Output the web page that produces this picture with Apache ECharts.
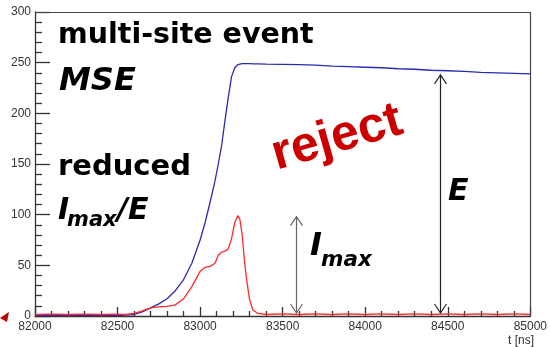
<!DOCTYPE html>
<html><head><meta charset="utf-8">
<script src="https://cdn.jsdelivr.net/npm/echarts@6/dist/echarts.min.js"></script>
<style>html,body{margin:0;padding:0;background:#fff}#c{width:550px;height:347px}</style>
</head><body><div id="c"></div>
<script>
// time points (ns)
const times = [82000,82100,82200,82300,82400,82500,82550,82600,82650,82700,82750,82800,82850,82900,82950,83000,83030,83060,83090,83110,83130,83150,83170,83190,83210,83228,83240,83255,83270,83285,83300,83320,83350,83400,83500,83600,83700,83800,83900,84000,84100,84200,84300,84400,84500,84600,84700,84800,84900,85000];
// blue: energy E (integrated charge)
const blueE = [0.5,0.3,0.5,0.4,0.5,0.5,0.8,1.5,4,8,12,17,25,36,52,75,92,112,133,150,168,192,215,236,245,248,248.5,249,249,249,249,248.8,248.8,248.5,248.3,248,247.5,246.5,246,245.5,245,244,243.5,242.5,242,241.5,240.5,240,239.5,239];
// red: current I
const redI = [1.5,1.8,1.5,1.8,1.5,1.8,1.5,2.5,5,8,9,9.5,11,17,29,44,48,49,52,60,63,64,66,76,92,99,96,80,52,32,16,6,2.5,1.5,2,1.5,2,1.5,2,1.5,2,1.5,2,1.5,2,1.5,2,1.5,2,1.5];
// annotation arrows: [time, from value, to value]
const arrowE = [84453, 3, 238];
const arrowI = [83581, 3, 98];

const chart = echarts.init(document.getElementById('c'));
const axisCol = '#333';
chart.setOption({
  animation:false,
  grid:{left:35,right:16,top:12,bottom:31},
  xAxis:{type:'value',min:82000,max:85000,interval:500,
    axisLine:{show:true,lineStyle:{color:axisCol,width:1.3}},
    axisTick:{show:true,inside:true,length:9,lineStyle:{color:axisCol,width:1.3}},
    minorTick:{show:true,splitNumber:5,length:5,lineStyle:{color:axisCol,width:1.3}},
    splitLine:{show:false},
    axisLabel:{color:'#333',fontSize:12,fontFamily:'Liberation Sans',margin:5,formatter:v=>String(v)}},
  yAxis:{type:'value',min:0,max:300,interval:50,
    axisLine:{show:true,lineStyle:{color:axisCol,width:1.3}},
    axisTick:{show:true,inside:true,length:15,lineStyle:{color:axisCol,width:1.3}},
    minorTick:{show:true,splitNumber:5,length:7,lineStyle:{color:axisCol,width:1.3}},
    splitLine:{show:false},
    axisLabel:{color:'#333',fontSize:12,fontFamily:'Liberation Sans',margin:4,formatter:v=>String(v)}},
  series:[
    {type:'line',data:times.map((t,i)=>[t,blueE[i]]),showSymbol:false,lineStyle:{color:'#2b2bb0',width:1.3}},
    {type:'line',data:times.map((t,i)=>[t,redI[i]]),showSymbol:false,lineStyle:{color:'#ff2a2a',width:1.3}}
  ]
});

const px = (x,y)=>chart.convertToPixel({gridIndex:0},[x,y]);
const c0 = px(82000,0), c1 = px(85000,300);
const L=Math.round(c0[0])+0.5, B=Math.round(c0[1])+0.5, R=Math.round(c1[0])+0.5, T=Math.round(c1[1])+0.5;
const g = [];
// frame (top, right)
g.push({type:'polyline',shape:{points:[[L,T],[R,T],[R,B]]},style:{stroke:'#444',lineWidth:1.2,fill:null},z:5});
function arrowGraphics(a,col){
  const p1 = px(a[0],a[1]), p2 = px(a[0],a[2]);
  const x = Math.round(p1[0])+0.5, yb=p1[1], yt=p2[1];
  const st = ()=>({stroke:col,lineWidth:1.2,fill:null});
  return [
    {type:'line',shape:{x1:x,y1:yb,x2:x,y2:yt},style:st(),z:10},
    {type:'polyline',shape:{points:[[x-6,yt+9],[x,yt],[x+6,yt+9]]},style:st(),z:10},
    {type:'polyline',shape:{points:[[x-6,yb-9],[x,yb],[x+6,yb-9]]},style:st(),z:10}
  ];
}
function txt(text,x,y,font,fill){
  return {type:'text',x:x,y:y,z:20,style:{text:text,font:font,fill:fill||'#000',align:'left',verticalAlign:'middle'}};
}
g.push(...arrowGraphics(arrowE,'#222'));
g.push(...arrowGraphics(arrowI,'#666'));
g.push(
  txt('multi-site event',58,36,'bold 28.5px "DejaVu Sans"'),
  txt('MSE',59,82,'italic bold 32px "DejaVu Sans"'),
  txt('reduced',58,167,'bold 29px "DejaVu Sans"'),
  txt('I',58,211,'italic bold 30px "DejaVu Sans"'),
  txt('max',67,221,'italic bold 21px "DejaVu Sans"'),
  txt('/E',117,211,'italic bold 30px "DejaVu Sans"'),
  txt('E',448,192,'italic bold 30px "DejaVu Sans"'),
  txt('I',310,246.5,'italic bold 32px "DejaVu Sans"'),
  txt('max',321,260,'italic bold 21.5px "DejaVu Sans"'),
  {type:'text',x:337,y:138,rotation:16*Math.PI/180,z:20,style:{text:'reject',font:'bold 50px "Liberation Sans"',fill:'#cc0000',align:'center',verticalAlign:'middle'}},
  {type:'text',x:534,y:341,z:20,style:{text:'t [ns]',font:'12px "Liberation Sans"',fill:'#333',align:'right',verticalAlign:'middle'}},
  {type:'polygon',shape:{points:[[0,318],[9,312],[7,322]]},style:{fill:'#c00000'},z:20}
);
chart.setOption({graphic:g});
</script></body></html>
